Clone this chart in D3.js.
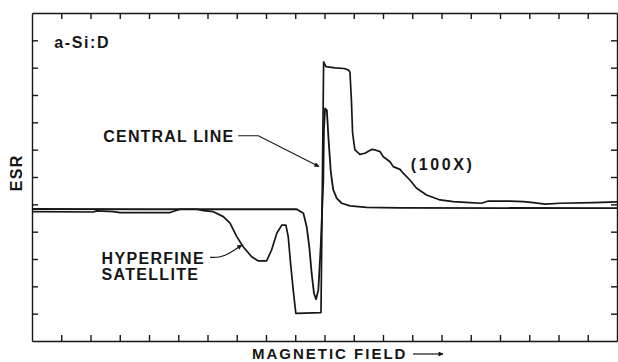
<!DOCTYPE html>
<html>
<head>
<meta charset="utf-8">
<script src="https://cdn.jsdelivr.net/npm/d3@7"></script>
<style>
  body { margin: 0; background: #fff; }
  text { font-family: "Liberation Sans", Arial, sans-serif; font-weight: bold; fill: #161616; }
</style>
</head>
<body>
<svg width="618" height="362"></svg>
<script>
// field in tick units (0..20), ESR signal in tick units (0..12)
const xTicks = d3.range(1, 20);
const yTicks = d3.range(1, 12);

// central line, recorded at 1x gain
const centralField = [0, 4.03, 9.05, 9.28, 9.39, 9.48, 9.56, 9.64, 9.71, 9.79, 9.87, 9.96, 9.98, 10.02, 10.08, 10.14, 10.21, 10.25, 10.30, 10.42, 10.59, 10.87, 11.44, 12.58, 20];
const centralEsr = [4.83, 4.82, 4.82, 4.67, 4.18, 3.45, 2.48, 1.75, 1.53, 1.87, 3.45, 5.89, 7.72, 8.51, 8.45, 7.35, 6.26, 5.89, 5.53, 5.22, 5.04, 4.94, 4.89, 4.87, 4.86];

// same spectrum at 100x gain (shows hyperfine satellite)
const gainField = [0, 2.10, 2.21, 2.78, 3.01, 4.72, 5.06, 5.63, 5.86, 6.20, 6.54, 6.77, 7.00, 7.22, 7.51, 7.74, 8.02, 8.19, 8.37, 8.54, 8.68, 8.76, 8.84, 8.93, 9.02, 9.05, 9.88, 9.97, 10.05, 10.36, 10.67, 10.81, 10.87, 10.92, 10.96, 11.04, 11.21, 11.38, 11.61, 11.73, 11.90, 12.01, 12.24, 12.35, 12.58, 12.69, 12.92, 13.15, 13.49, 13.95, 14.40, 14.97, 15.37, 15.60, 16.34, 16.80, 17.14, 17.54, 18.05, 19.19, 20];
const gainEsr = [4.73, 4.72, 4.76, 4.73, 4.70, 4.70, 4.82, 4.82, 4.77, 4.73, 4.55, 4.31, 3.82, 3.45, 3.08, 2.93, 2.93, 3.33, 3.94, 4.24, 4.24, 3.82, 2.84, 1.87, 1.01, 1.01, 1.04, 10.21, 10.04, 9.99, 9.97, 9.92, 9.84, 8.82, 7.61, 6.99, 6.83, 6.87, 7.01, 6.99, 6.93, 6.74, 6.56, 6.38, 6.28, 6.14, 5.89, 5.59, 5.34, 5.16, 5.10, 5.06, 5.04, 5.12, 5.12, 5.10, 5.06, 5.01, 5.04, 5.06, 5.09];

const svg = d3.select('svg');
const ink = '#161616';

const x = d3.scaleLinear().domain([0, 20]).range([32, 617]);
const y = d3.scaleLinear().domain([0, 12]).range([341, 13]);

// inward ticks on all four sides
const tick = 6;
svg.append('g').attr('transform', `translate(0,${y(0)})`)
    .call(d3.axisBottom(x).tickValues(xTicks).tickSize(-tick).tickSizeOuter(0).tickFormat(''));
svg.append('g').attr('transform', `translate(0,${y(12)})`)
    .call(d3.axisTop(x).tickValues(xTicks).tickSize(-tick).tickSizeOuter(0).tickFormat(''));
svg.append('g').attr('transform', `translate(${x(0)},0)`)
    .call(d3.axisLeft(y).tickValues(yTicks).tickSize(-tick).tickSizeOuter(0).tickFormat(''));
svg.append('g').attr('transform', `translate(${x(20)},0)`)
    .call(d3.axisRight(y).tickValues(yTicks).tickSize(-tick).tickSizeOuter(0).tickFormat(''));
svg.selectAll('.domain, .tick line').attr('stroke', ink).attr('stroke-width', 1.4);

const line = d3.line().x(d => x(d[0])).y(d => y(d[1]));

svg.append('path')
    .datum(d3.zip(gainField, gainEsr))
    .attr('d', line)
    .attr('fill', 'none').attr('stroke', ink).attr('stroke-width', 1.7)
    .attr('stroke-linejoin', 'round');

svg.append('path')
    .datum(d3.zip(centralField, centralEsr))
    .attr('d', line)
    .attr('fill', 'none').attr('stroke', ink).attr('stroke-width', 1.8)
    .attr('stroke-linejoin', 'round');

// arrowheads
svg.append('defs').append('marker')
    .attr('id', 'head')
    .attr('viewBox', '0 0 10 10')
    .attr('refX', 9).attr('refY', 5)
    .attr('markerWidth', 7).attr('markerHeight', 5)
    .attr('markerUnits', 'userSpaceOnUse')
    .attr('orient', 'auto')
    .append('path').attr('d', 'M0,0L10,5L0,10z').attr('fill', ink);

// labels, placed in data units
const label = (txt, fx, fy, spacing = 1.3) => svg.append('text')
    .attr('x', x(fx)).attr('y', y(fy))
    .attr('font-size', 16).attr('letter-spacing', spacing)
    .text(txt);

label('a-Si:D', 0.76, 10.71, 1.6);
label('CENTRAL LINE', 2.44, 7.29, 1.15);
label('(100X)', 12.95, 6.26, 2.6);
label('HYPERFINE', 2.38, 2.82);
label('SATELLITE', 2.38, 2.24);

svg.append('text')
    .attr('transform', `translate(22,${y(6.15)}) rotate(-90)`)
    .attr('text-anchor', 'middle')
    .attr('font-size', 16).attr('letter-spacing', 1.3)
    .text('ESR');

svg.append('text')
    .attr('x', x(7.52)).attr('y', 359)
    .attr('font-size', 15).attr('letter-spacing', 2)
    .text('MAGNETIC FIELD');

// leader lines
const lead = d3.line().x(d => x(d[0])).y(d => y(d[1]));
svg.append('path')
    .attr('d', lead([[7.05, 7.51], [7.74, 7.51], [9.81, 6.38]]))
    .attr('fill', 'none').attr('stroke', ink).attr('stroke-width', 1.1)
    .attr('marker-end', 'url(#head)');

svg.append('path')
    .attr('d', d3.line().curve(d3.curveBasis).x(d => x(d[0])).y(d => y(d[1]))(
        [[6.09, 3.06], [6.45, 3.06], [6.75, 3.20], [7.17, 3.51]]))
    .attr('fill', 'none').attr('stroke', ink).attr('stroke-width', 1.1)
    .attr('marker-end', 'url(#head)');

svg.append('line')
    .attr('x1', 413).attr('x2', 443).attr('y1', 354).attr('y2', 354)
    .attr('stroke', ink).attr('stroke-width', 1.2)
    .attr('marker-end', 'url(#head)');
</script>
</body>
</html>
